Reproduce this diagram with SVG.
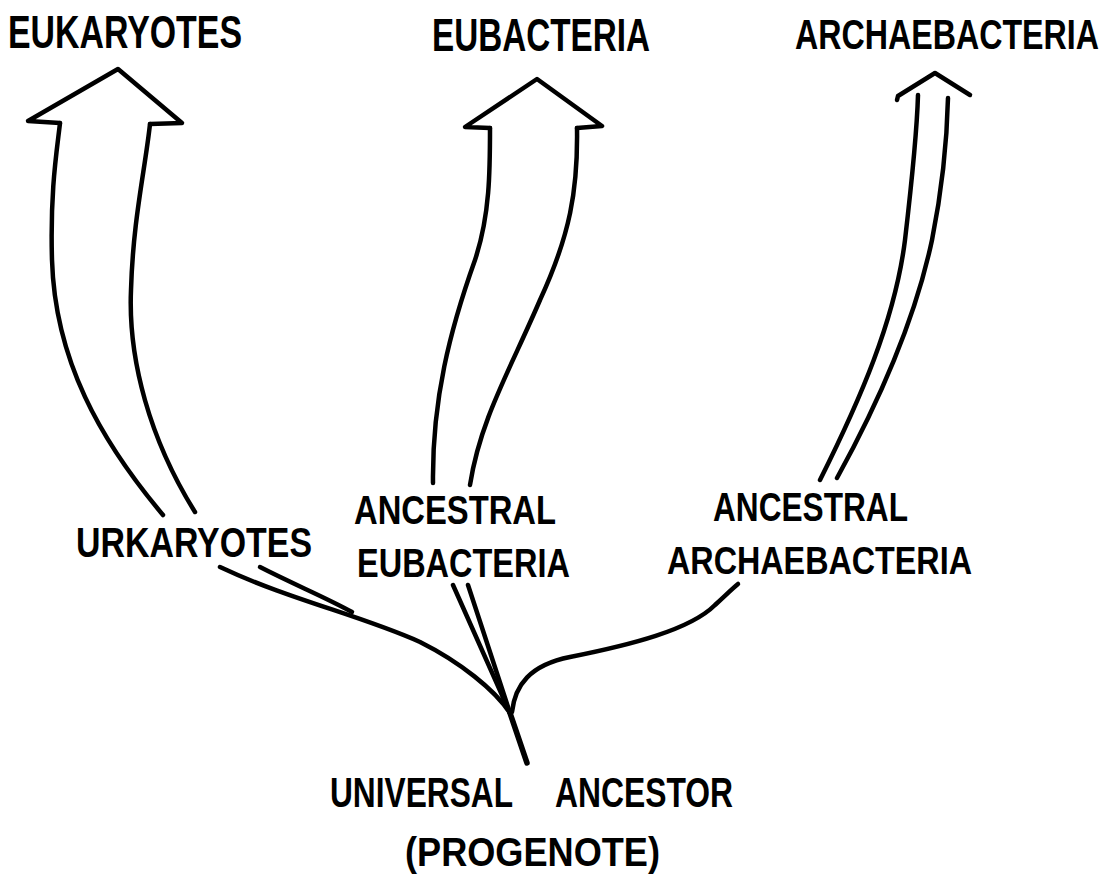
<svg xmlns="http://www.w3.org/2000/svg" width="1114" height="880" viewBox="0 0 1114 880">
<style>
.lbl{font-family:"Liberation Sans",Arial,sans-serif;font-weight:bold;fill:#000;}
.ln{fill:none;stroke:#000;stroke-width:4.5;stroke-linecap:round;stroke-linejoin:round;}
.thk{stroke-width:5.5;}
</style>
<rect width="1114" height="880" fill="#fff"/>
<g id="connectors">
  <g id="arrow-eukaryotes">
    <path class="ln" d="M163,515 C100,440 55,360 52,260 C50,190 57,150 60,123"/>
    <path class="ln" d="M195,512 C150,440 128,360 131,290 C133,220 145,170 150,124"/>
    <path class="ln" d="M60,123 L28,121 L118,69 L182,123 L150,124"/>
  </g>
  <g id="arrow-eubacteria">
    <path class="ln" d="M433,483 C432,400 450,330 475,260 C490,215 490,170 490,128"/>
    <path class="ln" d="M470,485 C480,420 510,370 540,300 C570,235 578,190 577,128"/>
    <path class="ln" d="M490,128 L465,127 L537,79 L602,126 L577,128"/>
  </g>
  <g id="arrow-archaebacteria">
    <path class="ln" d="M820,480 C860,400 895,320 905,240 C912,180 917,130 918,95"/>
    <path class="ln" d="M837,478 C880,400 915,320 932,240 C942,190 947,140 948,98"/>
    <path class="ln" d="M897,100 L898,96 L935,73 L970,95"/>
  </g>
  <g id="tree">
    <path class="ln thk" d="M527,763 L510,713"/>
    <path class="ln" d="M512,712 C515,685 530,665 570,657 C630,645 690,630 715,605 C728,593 733,588 738,584"/>
    <path class="ln" d="M453,585 L510,713"/>
    <path class="ln" d="M468,585 L510,713"/>
    <path class="ln" d="M220,567 C290,600 360,615 420,642 C460,662 495,690 510,713"/>
    <path class="ln" d="M260,567 C295,585 325,597 352,612"/>
  </g>
</g>
<g id="node-eukaryotes"><text class="lbl" x="8" y="48" font-size="47" textLength="234" lengthAdjust="spacingAndGlyphs">EUKARYOTES</text></g>
<g id="node-eubacteria"><text class="lbl" x="432" y="51" font-size="47" textLength="218" lengthAdjust="spacingAndGlyphs">EUBACTERIA</text></g>
<g id="node-archaebacteria"><text class="lbl" transform="translate(795,49) scale(1,1.3)" x="0" y="0" font-size="32" textLength="304" lengthAdjust="spacingAndGlyphs">ARCHAEBACTERIA</text></g>
<g id="node-urkaryotes"><text class="lbl" x="76" y="557" font-size="43" textLength="236" lengthAdjust="spacingAndGlyphs">URKARYOTES</text></g>
<g id="node-ancestral-eubacteria">
  <text class="lbl" x="354" y="524" font-size="40" textLength="202" lengthAdjust="spacingAndGlyphs">ANCESTRAL</text>
  <text class="lbl" x="357" y="577" font-size="41" textLength="213" lengthAdjust="spacingAndGlyphs">EUBACTERIA</text>
</g>
<g id="node-ancestral-archaebacteria">
  <text class="lbl" x="713" y="521" font-size="40" textLength="195" lengthAdjust="spacingAndGlyphs">ANCESTRAL</text>
  <text class="lbl" x="667" y="574" font-size="39" textLength="305" lengthAdjust="spacingAndGlyphs">ARCHAEBACTERIA</text>
</g>
<g id="node-universal-ancestor">
  <text class="lbl" x="330" y="807" font-size="42" textLength="183" lengthAdjust="spacingAndGlyphs">UNIVERSAL</text>
  <text class="lbl" x="555" y="807" font-size="42" textLength="178" lengthAdjust="spacingAndGlyphs">ANCESTOR</text>
  <text class="lbl" x="405" y="866" font-size="40" textLength="255" lengthAdjust="spacingAndGlyphs">(PROGENOTE)</text>
</g>
</svg>
